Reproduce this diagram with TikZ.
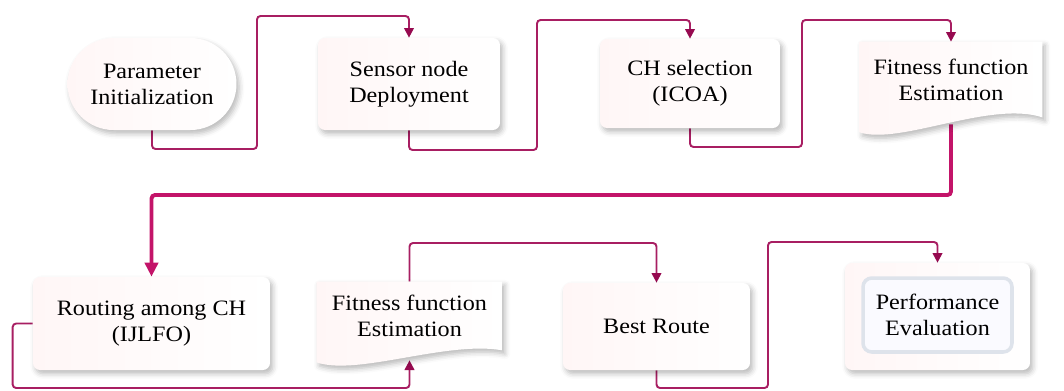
\documentclass[tikz,border=0pt]{standalone}
\usepackage{fontspec}
\setmainfont{Liberation Serif}[FakeStretch=1.1]
\usetikzlibrary{shapes.misc,arrows.meta,shadows.blur,backgrounds,calc}
\definecolor{linkclr}{RGB}{168,30,98}
\definecolor{mainclr}{RGB}{195,20,105}
\definecolor{tipclr}{RGB}{150,10,80}
\definecolor{edgeclr}{RGB}{222,227,235}

\begin{document}
\begin{tikzpicture}[x=0.02cm, y=-0.02cm,
	font=\fontsize{12.5}{14.7}\selectfont,
	soft/.style={left color=red!3.5, right color=white, blur shadow={shadow xshift=1.5pt, shadow yshift=-2pt, shadow blur radius=3pt, shadow opacity=28}},
	box/.style={soft, rectangle, rounded corners=4pt, align=center, inner sep=0pt},
	startbox/.style={soft, rounded rectangle, align=center, inner sep=0pt},
	innerbox/.style={rectangle, rounded corners=5pt, fill=blue!2!white, draw=edgeclr, line width=2pt, align=center, inner sep=0pt},
	doctext/.style={align=center, inner sep=0pt},
	link/.style={draw=linkclr, line width=1.1pt, rounded corners=2pt, -{Triangle[width=5.5pt,length=5.5pt,color=tipclr]}},
	mainlink/.style={link, draw=mainclr, line width=2.2pt, -{Triangle[width=7.5pt,length=8pt,color=mainclr]}}]
	\useasboundingbox (0,0) rectangle (1064,390);
	\node[startbox, minimum width=3.38cm, minimum height=1.84cm] (param) at (152,84) {Parameter\\Initialization};
	\node[box, minimum width=3.64cm, minimum height=1.84cm] (sensor) at (409,84) {Sensor node\\Deployment};
	\node[box, minimum width=3.6cm, minimum height=1.78cm] (chsel) at (690,83.5) {CH selection\\(ICOA)};
	\node[doctext, minimum width=3.64cm, minimum height=1.5cm] (fit1) at (951,79.5) {Fitness function\\Estimation};
	\node[box, minimum width=4.74cm, minimum height=1.86cm] (routing) at (151.5,323.5) {Routing among CH\\(IJLFO)};
	\node[doctext, minimum width=3.7cm, minimum height=1.36cm] (fit2) at (409.5,316) {Fitness function\\Estimation};
	\node[box, minimum width=3.74cm, minimum height=1.74cm] (best) at (656.5,326.5) {Best Route};
	\node[box, minimum width=3.7cm, minimum height=2.14cm] (perf) at (937.5,316.5) {};
	\node[innerbox, minimum width=2.98cm, minimum height=1.48cm] (perfin) at (937.5,315) {Performance\\Evaluation};
	\begin{scope}[on background layer]
		\draw[link] (param.south) |- (257,149) |- (330,16) -| (sensor.north);
		\draw[link] (sensor.south) |- (537,150) |- (600,20) -| (chsel.north);
		\draw[link] (chsel.south) |- (802,147) |- (870,20) -| (fit1.north);
		\draw[mainlink] ($(fit1.south)+(0,7)$) |- (300,195) -| (routing.north);
		\draw[link] (routing.west) -- ++(-20,0) |- (300,388) -| ($(fit2.south)+(0,10)$);
		\draw[link] (fit2.north) |- (500,243) -| (best.north);
		\draw[link] (best.south) |- (768,388) |- (850,242) -| (perf.north);
		\path[soft] (fit1.north west) -- (fit1.north east) -- (fit1.south east) .. controls +(-52,-17) and +(40,13) .. ($(fit1.south west)+(0,15)$) -- cycle;
		\path[soft] (fit2.north west) -- (fit2.north east) -- (fit2.south east) .. controls +(-55,-10) and +(40,14) .. ($(fit2.south west)+(0,12)$) -- cycle;
	\end{scope}
\end{tikzpicture}
\end{document}
